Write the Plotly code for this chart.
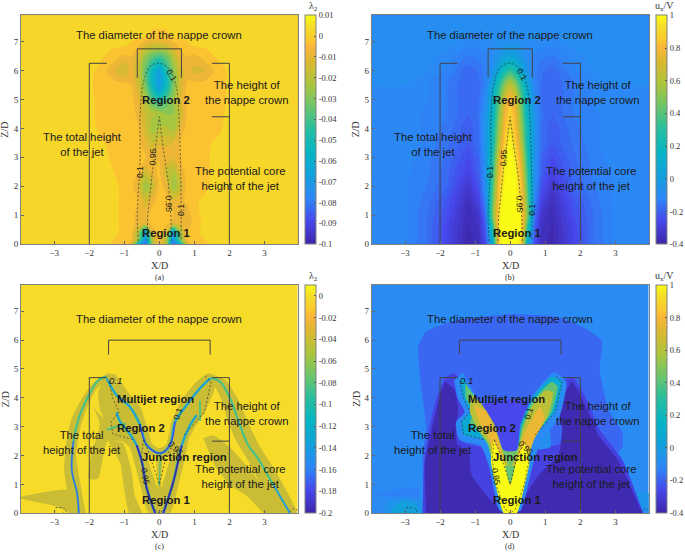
#!/usr/bin/python
import numpy as np
import plotly.graph_objects as go
import plotly.colors as pc

PARULA = [[0, "#3E26A8"], [0.1, "#4747EB"], [0.2, "#2D87F7"], [0.3, "#12A0DC"], [0.4, "#05B5C5"],
          [0.5, "#26BEA0"], [0.6, "#6CC56B"], [0.7, "#ACC53C"], [0.8, "#DDB830"], [0.86, "#FBB53A"],
          [0.89, "#FBC82D"], [0.95, "#F5DD28"], [1, "#F9FB15"]]

XTICKS = [-3, -2, -1, 0, 1, 2, 3]
YTICKS = [0, 1, 2, 3, 4, 5, 6, 7]

# panel (a): lambda2 x 1000
A_X = [-3.95, -3, -2, -1.7, -1.3, -1, -.8, -.6, -.4, -.2, 0, .2, .4, .6, .8, 1, 1.3, 1.7, 2, 3, 3.95]
A_Y = [0, .15, .4, .7, 1, 1.5, 2, 2.5, 3, 3.5, 4, 4.5, 5, 5.5, 6, 6.5, 6.9, 7.2, 7.91]
A_Z = [
    [-3, -3, -3, -3, -6, -7, -14, -60, -85, -25, -9, -25, -85, -60, -14, -7, -6, -3, -3, -3, -3],
    [-3, -3, -3, -3, -5, -7, -9, -30, -75, -25, -8, -25, -75, -35, -10, -7, -5, -3, -3, -3, -3],
    [-3, -3, -3, -3, -4, -6, -8, -26, -68, -16, -7, -16, -70, -26, -9, -6, -4, -3, -3, -3, -3],
    [-3, -3, -3, -3, -4, -6, -8, -12, -16, -8, -7, -8, -16, -14, -14, -7, -4, -3, -3, -3, -3],
    [-3, -3, -3, -3, -4, -6, -8, -12, -12, -7, -7, -7, -10, -14, -14, -6, -4, -3, -3, -3, -3],
    [-3, -3, -3, -3, -4, -6, -7, -10, -18, -12, -7, -8, -14, -12, -8, -6, -4, -3, -3, -3, -3],
    [-3, -3, -3, -3, -4, -6, -8, -15, -30, -22, -8, -12, -30, -20, -8, -6, -6, -3, -3, -3, -3],
    [-3, -3, -3, -3, -5, -6, -7, -10, -18, -12, -9, -20, -25, -14, -7, -6, -6, -3, -3, -3, -3],
    [-3, -3, -3, -3, -6, -6, -7, -8, -10, -12, -10, -12, -14, -10, -7, -6, -6, -3, -3, -3, -3],
    [-3, -3, -3, -4, -7, -6, -7, -8, -14, -20, -16, -16, -15, -9, -7, -6, -6, -4, -3, -3, -3],
    [-3, -3, -3, -6, -7, -7, -7, -9, -18, -28, -25, -24, -28, -14, -8, -7, -7, -6, -3, -3, -3],
    [-3, -3, -4, -6, -7, -7, -7, -12, -20, -24, -26, -30, -30, -20, -9, -7, -7, -6, -4, -3, -3],
    [-3, -3, -4, -6, -7, -7, -8, -14, -26, -42, -50, -42, -30, -16, -8, -7, -7, -7, -4, -3, -3],
    [-3, -3, -4, -7, -8, -8, -10, -18, -35, -55, -72, -55, -35, -18, -9, -8, -8, -7, -4, -3, -3],
    [-3, -3, -4, -6, -14, -20, -12, -20, -38, -55, -68, -50, -32, -17, -12, -17, -15, -7, -4, -3, -3],
    [-3, -3, -3, -4, -7, -11, -10, -17, -30, -38, -42, -36, -24, -12, -10, -11, -7, -4, -3, -3, -3],
    [-3, -3, -3, -3, -4, -4, -6, -9, -15, -18, -18, -16, -12, -8, -6, -4, -4, -3, -3, -3, -3],
    [-3, -3, -3, -3, -3, -3, -3, -3, -4, -6, -6, -6, -4, -3, -3, -3, -3, -3, -3, -3, -3],
    [-3, -3, -3, -3, -3, -3, -3, -3, -3, -3, -3, -3, -3, -3, -3, -3, -3, -3, -3, -3, -3],
]

# panel (b): ux/V
B_X = [-3.95, -3, -2.4, -1.8, -1.2, -.9, -.7, -.5, -.3, -.15, 0, .15, .3, .5, .7, .9, 1.2, 1.8, 2.4, 3, 3.95]
B_Y = [0, .5, 1, 1.5, 2, 2.5, 3, 3.5, 4, 4.5, 5, 5.5, 6, 6.5, 7, 7.91]
B_Z = [
    [-.1, -.12, -.17, -.27, -.39, -.36, -.25, .08, .9, 1, 1, 1, .9, .08, -.25, -.36, -.39, -.27, -.17, -.12, -.1],
    [-.1, -.12, -.17, -.27, -.38, -.35, -.22, .25, .97, 1, 1, 1, .97, .25, -.22, -.35, -.38, -.27, -.17, -.12, -.1],
    [-.1, -.12, -.17, -.25, -.37, -.33, -.17, .45, .95, 1, 1, 1, .95, .45, -.17, -.33, -.37, -.25, -.17, -.12, -.1],
    [-.1, -.12, -.16, -.23, -.35, -.28, -.12, .4, .9, 1, 1, 1, .9, .4, -.12, -.28, -.35, -.23, -.16, -.12, -.1],
    [-.1, -.12, -.15, -.2, -.32, -.24, -.09, .35, .85, .98, 1, .98, .85, .35, -.09, -.24, -.32, -.2, -.15, -.12, -.1],
    [-.1, -.12, -.14, -.19, -.28, -.21, -.07, .3, .78, .96, 1, .96, .78, .3, -.07, -.21, -.28, -.19, -.14, -.12, -.1],
    [-.1, -.11, -.14, -.18, -.25, -.2, -.07, .25, .72, .92, .99, .92, .72, .25, -.07, -.2, -.25, -.18, -.14, -.11, -.1],
    [-.1, -.11, -.13, -.17, -.22, -.18, -.05, .2, .62, .86, .96, .86, .62, .2, -.05, -.18, -.22, -.17, -.13, -.11, -.1],
    [-.1, -.11, -.13, -.16, -.22, -.18, -.05, .18, .55, .8, .9, .8, .55, .18, -.05, -.18, -.22, -.16, -.13, -.11, -.1],
    [-.1, -.11, -.13, -.15, -.2, -.17, -.06, .13, .5, .75, .87, .75, .5, .13, -.06, -.17, -.2, -.15, -.13, -.11, -.1],
    [-.1, -.1, -.12, -.15, -.2, -.18, -.1, .1, .42, .68, .8, .68, .42, .1, -.1, -.18, -.2, -.15, -.12, -.1, -.1],
    [-.1, -.1, -.12, -.15, -.2, -.18, -.13, .05, .3, .5, .62, .5, .3, .05, -.13, -.18, -.2, -.15, -.12, -.1, -.1],
    [-.09, -.09, -.1, -.13, -.19, -.17, -.14, -.06, .1, .22, .3, .22, .1, -.06, -.14, -.17, -.19, -.13, -.1, -.09, -.09],
    [-.09, -.09, -.09, -.11, -.15, -.14, -.13, -.1, -.04, 0, .02, 0, -.04, -.1, -.13, -.14, -.15, -.11, -.09, -.09, -.09],
    [-.08, -.08, -.08, -.09, -.11, -.11, -.1, -.1, -.09, -.08, -.08, -.08, -.09, -.1, -.1, -.11, -.11, -.09, -.08, -.08, -.08],
    [-.08, -.08, -.08, -.08, -.08, -.08, -.08, -.08, -.08, -.08, -.08, -.08, -.08, -.08, -.08, -.08, -.08, -.08, -.08, -.08, -.08],
]

# isolines of the upper panels, (x, z)
UPPER_01 = [(-.6, .1), (-.63, 1.06), (-.55, 2.9), (-.55, 4.4), (-.46, 5.56), (-.27, 6.14), (0, 6.25), (.26, 6.08),
            (.47, 5.5), (.56, 4.4), (.62, 1.5), (.62, .1)]
UPPER_095 = [(-.35, .1), (-.33, 1), (-.2, 2.5), (-.1, 3.4), (0, 4.4), (.1, 3.4), (.25, 2.2), (.33, 1), (.35, .1)]

# panel (c): filled regions (x, z, lambda2)
C_BG = -0.002
C_OLIVE = -0.04
C_ARCH_L = [(-2.6, 0), (-2.62, .7), (-2.72, 1.5), (-2.65, 2.5), (-2.5, 3.3), (-2.2, 4), (-1.9, 4.5), (-1.6, 4.75), (-1.4, 4.82),
            (-1.5, 4.6), (-1.8, 4.3), (-2.05, 3.7), (-2.25, 3), (-2.38, 2), (-2.25, 1), (-2.15, .3), (-2.1, 0)]
C_ARCH_R = [(1.4, 4.85), (1.9, 4.6), (2.25, 3.95), (2.55, 3.1), (2.85, 2.35), (3.3, 1.5), (3.92, 0), (3.5, 0), (2.9, 1),
            (2.55, 1.8), (2.2, 2.5), (1.95, 3.2), (1.75, 4), (1.55, 4.5)]
C_CENTRE = [(-1.5, 4.85), (-1.25, 4.8), (-.9, 4.2), (-.55, 3.7), (-.35, 3), (-.2, 2.4), (0, 2.25), (.2, 2.4), (.35, 3.2),
            (.65, 3.95), (1.05, 4.55), (1.4, 4.85), (1.65, 4.7), (1.55, 4.2), (1.3, 3.5), (1.05, 3.05), (.85, 2.6), (.75, 2),
            (.55, 1), (.3, 0), (-.3, 0), (-.55, 1), (-.7, 1.7), (-.85, 2.3), (-1.05, 2.5), (-1.5, 2.5), (-1.7, 2.9), (-1.6, 3.3),
            (-1.7, 3.6), (-1.75, 4.2)]
C_HOLE_L = [(-.38, 2.05), (-.05, .9), (-.1, 2.0)]
C_HOLE_R = [(.34, 2.05), (.05, .9), (.1, 2.0)]
C_STREAK_L = [(-1.45, 2.5), (-1.05, 2.45), (-.8, 1.5), (-.7, .6), (-.5, 0), (-.85, 0), (-1, .8), (-1.1, 1.7)]
C_STREAK_R = [(1.25, 2.6), (1.55, 2.7), (2, 2.3), (2.6, 1.5), (3.1, .7), (3.55, 0), (3, 0), (2.5, .6), (2, 1), (1.6, 1.6)]
C_WEDGE = [(-3.95, .58), (-2.55, .8), (-2.5, .05), (-3, .25), (-3.95, .5)]
C_STREAK_M = [(-1.9, 3.7), (-1.7, 3.1), (-1.95, 2), (-2.02, 1.2), (-1.75, 1.2), (-1.6, 2), (-1.4, 3)]
C_RIDGE_L = [(-2.3, 0), (-2.35, .7), (-2.5, 1.5), (-2.45, 2.5), (-2.3, 3.3), (-2.05, 4), (-1.75, 4.6), (-1.5, 4.75)]
C_RIDGE_R = [(1.45, 4.69), (1.73, 4.56), (2.02, 3.98), (2.3, 3.06), (2.54, 2.36), (2.78, 1.96), (3.26, .98), (3.73, 0)]
C_RIDGE_IN = [(-1.5, 4.67), (-1.22, 4.09), (-.84, 3.69), (-.55, 3.06), (-.36, 2.36), (.02, 2.08), (.3, 2.36), (.45, 3.17),
              (.78, 3.75), (1.16, 4.33), (1.45, 4.67)]
C_LEG_L = [(-.12, 0), (-.36, .87), (-.5, 1.79), (-.65, 2.36), (-.89, 2.83), (-1.12, 3.17), (-1.22, 3.5)]
C_LEG_R = [(.11, 0), (.4, 1.1), (.64, 2.36), (.88, 3.06), (1.07, 3.4)]
C_BRANCH = [(-1.5, 2.9), (-.95, 3.1)]
C_SPOT = [(1.16, 3.9), (1.16, 3.2)]
C_MID = [(0, .95), (.03, 2.05)]

# panel (d): filled regions (x, z, ux/V)
D_BG = -0.1
D_DOME = [(-2.45, 0), (-2.5, 2), (-2.4, 3), (-2.55, 4.5), (-2.62, 5.8), (-2.4, 6.3), (-1.9, 6.55), (-1.4, 6.72), (0, 6.9), (1.4, 6.8),
          (2.15, 6.4), (2.62, 5.95), (2.55, 5), (2.8, 3.6), (3.2, 2.8), (3.2, 2.3), (2.9, 1.8), (3.7, 0)]
D_MOUNT = [(-2.5, 0), (-2.45, 1.8), (-2.3, 3), (-2.1, 4), (-1.85, 4.7), (-1.6, 4.85), (-1.4, 4.6), (-1.35, 3.9), (-1.2, 3.5),
           (-1.45, 3.1), (-1.4, 2.5), (-.75, 2.3), (.75, 2.3), (1.4, 2.4), (1.55, 3.0), (1.4, 3.6), (1.55, 4.6), (1.8, 4.7), (2.2, 3.9),
           (2.55, 2.9), (3.2, 1.85), (3.8, 0)]
D_NAVY_L = [(-2.4, 0), (-2.43, 1.79), (-2.14, 3.4), (-1.86, 4.55), (-1.6, 4.3), (-1.48, 3.63), (-1.55, 3), (-1.5, 2.35),
            (-1.19, 2.13), (-1.1, 1.33), (-.52, .4), (-.14, 0)]
D_NAVY_R = [(.14, 0), (.81, 1.33), (1.38, 2), (1.48, 2.94), (1.38, 3.63), (1.76, 4.55), (2.2, 3.6), (2.52, 2.7), (3.1, 1.79), (3.76, 0)]
D_GAP = [(-.25, 2.1), (0, 2), (.25, 2.1), (.45, 3), (.75, 3.75), (0, 3.95), (-.8, 3.75), (-.5, 3)]
D_BLOB_L0 = [(-3.6, 0), (-3.5, .4), (-3, .55), (-2.55, .45), (-2.45, 0)]
D_BLOB_L = [(-3.4, 0), (-3.3, .3), (-3, .42), (-2.7, .32), (-2.55, 0)]
D_BLOB_L2 = [(-3.95, .65), (-2.6, .9), (-2.6, .55), (-3.5, .6)]
D_BLOB_R = [(3.55, .8), (3.95, .7), (3.95, 0), (3.72, .2)]
D_BLOB_IN = [(.8, 2.2), (1.15, 2.3), (1.1, 3), (.95, 2.9)]
D_V0 = [(-1.6, 4.6), (-1.5, 4), (-1.3, 3.5), (-1.55, 3.15), (-1.45, 2.55), (-.85, 2.35), (-.62, 1.7), (-.3, .1), (0, 0), (.3, .1),
        (.65, 1.7), (.85, 2.4), (1.42, 3.4), (1.6, 4.56), (1.25, 4.88), (.65, 4.1), (.35, 3.1), (.24, 2.2), (0, 2.02), (-.22, 2.2),
        (-.52, 3.1), (-1.0, 4.1), (-1.35, 4.88)]
D_V1 = [(-1.43, 4.56), (-1.33, 3.98), (-1.14, 3.52), (-1.38, 3.17), (-1.33, 2.71), (-.71, 2.54), (-.52, 1.79), (-.24, .17), (0, 0),
        (.24, .17), (.52, 1.79), (.71, 2.71), (1.29, 3.52), (1.48, 4.56), (1.19, 4.73), (.62, 3.98), (.29, 3.06), (.19, 2.13),
        (-.05, 2.08), (-.43, 2.48), (-.71, 3.29), (-1.05, 3.98), (-1.33, 4.67)]
D_V2 = [(-1.28, 4.5), (-1.27, 4), (-1.05, 3.5), (-1.15, 3.15), (-.95, 2.9), (-.65, 2.4), (-.5, 1.7), (-.2, .1), (.2, .1), (.5, 1.7),
        (.68, 2.6), (1.18, 3.5), (1.35, 4.4), (1.18, 4.55), (.62, 3.85), (.33, 3), (.2, 2.2), (0, 2.12), (-.2, 2.2), (-.48, 3.1),
        (-.95, 3.95)]
D_V3 = [(-1.1, 4.1), (-1.15, 3.5), (-.9, 2.9), (-.6, 2.4), (-.45, 1.7), (.45, 1.7), (.65, 2.5), (1.08, 3.4), (1.22, 4.2), (1, 4.25),
        (.62, 3.7), (.36, 2.9), (.22, 2.2), (0, 1.6), (-.22, 2.2), (-.46, 3.1), (-.85, 3.85)]
D_V4 = [(-1.03, 3.75), (-.9, 3.2), (-.6, 2.6), (-.45, 1.8), (-.2, .1), (.2, .1), (.45, 1.8), (.66, 2.5), (.98, 3.3), (.85, 3.7),
        (.4, 2.75), (.22, 2), (0, 1), (-.22, 2), (-.4, 2.75), (-.68, 3.55)]
D_STEM = [(-.48, 2.55), (-.55, 1.8), (-.4, .9), (-.18, 0), (.18, 0), (.4, .9), (.55, 1.8), (.42, 2.45), (.17, 1.75), (0, .95),
          (-.17, 1.75)]
D_HOLE = [(-.16, 2.12), (0, 1.6), (.16, 2.12), (0, 2.15)]

# isolines of the lower panels, (x, z)
LOWER_01 = [(-1.43, 4.56), (-1.33, 3.98), (-1.14, 3.52), (-1.38, 3.17), (-1.33, 2.75), (-.71, 2.54)]
LOWER_01B = [(.71, 2.71), (1.29, 3.52), (1.48, 4.56), (1.3, 4.75)]
LOWER_095 = [(-.45, 2.55), (-.52, 1.9), (-.38, .9), (-.15, .15), (0, 0), (.15, .15), (.38, .9), (.55, 1.9), (.42, 2.45),
             (.2, 2), (0, 1), (-.3, 2.1), (-.45, 2.55)]
LOWER_OVAL_L = [(-3, .05), (-2.95, .2), (-2.75, .2), (-2.65, .08), (-2.75, 0)]
LOWER_OVAL_R = [(3.72, .05), (3.85, .18), (3.95, .1)]

# brackets (x, z)
UP_TOTAL_L = [(-1.5, 6.25), (-2, 6.25), (-2, 0)]
UP_TOTAL_R = [(1.5, 6.25), (2, 6.25), (2, 0)]
UP_CROWN = [(1.5, 4.4), (2, 4.4)]
UP_DIAM = [(-.63, 5.75), (-.63, 6.75), (.63, 6.75), (.63, 5.75)]
LO_TOTAL_L = [(-1.5, 4.7), (-2, 4.7), (-2, 0)]
LO_TOTAL_R = [(1.5, 4.7), (2, 4.7), (2, 0)]
LO_CROWN = [(1.5, 2.5), (2, 2.5)]
LO_DIAM = [(-1.45, 5.5), (-1.45, 6), (1.45, 6), (1.45, 5.5)]

SERIF = "Liberation Serif"
SANS = "Liberation Sans"
W, H = 685, 552
DARK = "#333333"
DOTS = "2px,2px"

PANELS = {
    "a": dict(px=(21, 297.7), py=(15.3, 244), cb=305, lo=-.1, hi=.01, sub="(a)", title="λ<sub>2</sub>",
              ticks=[.01, 0, -.01, -.02, -.03, -.04, -.05, -.06, -.07, -.08, -.09, -.1]),
    "b": dict(px=(371.7, 648.7), py=(15.3, 244), cb=656, lo=-.4, hi=1, sub="(b)", title="u<sub>x</sub>/V",
              ticks=[1, .8, .6, .4, .2, 0, -.2, -.4]),
    "c": dict(px=(21, 297.7), py=(285, 513.3), cb=305, lo=-.2, hi=.01, sub="(c)", title="λ<sub>2</sub>",
              ticks=[0, -.02, -.04, -.06, -.08, -.1, -.12, -.14, -.16, -.18, -.2]),
    "d": dict(px=(371.7, 648.7), py=(285, 513.3), cb=656, lo=-.4, hi=1, sub="(d)", title="u<sub>x</sub>/V",
              ticks=[1, .8, .6, .4, .2, 0, -.2, -.4]),
}

fig = go.Figure()
layout = {}
notes = []


def colour(key, v):
    p = PANELS[key]
    return pc.sample_colorscale(PARULA, [(v - p["lo"]) / (p["hi"] - p["lo"])])[0]


def axes(key):
    n = "abcd".index(key) + 1
    return "x%d" % n, "y%d" % n


def region(key, pts, v, shape="spline"):
    xa, ya = axes(key)
    xs, ys = zip(*pts)
    fig.add_trace(go.Scatter(x=xs, y=ys, xaxis=xa, yaxis=ya, mode="lines", fill="toself", fillcolor=colour(key, v),
                             line=dict(width=0, shape=shape, smoothing=.5), hoverinfo="skip", showlegend=False))


def line(key, pts, col=DARK, width=.7, dash=None, shape="spline"):
    xa, ya = axes(key)
    xs, ys = zip(*pts)
    fig.add_trace(go.Scatter(x=xs, y=ys, xaxis=xa, yaxis=ya, mode="lines", hoverinfo="skip", showlegend=False,
                             line=dict(color=col, width=width, dash=dash, shape=shape)))


def text(key, x, y, s, size=11.3, bold=False, angle=0, italic=False):
    xa, ya = axes(key)
    if bold:
        s = "<b>%s</b>" % s
    if italic:
        s = "<i>%s</i>" % s
    notes.append(dict(x=x, y=y, xref=xa, yref=ya, text=s, showarrow=False, textangle=angle,
                      xanchor="center", yanchor="middle", font=dict(family=SANS, size=size, color="#1a1a1a")))


def paper_text(x, y, s, size, angle=0):
    notes.append(dict(x=x / W, y=1 - y / H, xref="paper", yref="paper", text=s, showarrow=False, textangle=angle,
                      xanchor="center", yanchor="middle", font=dict(family=SERIF, size=size, color="#333333")))


# fields (filled bands take the colour of their lower level, so panel a is moved a little)
fig.add_trace(go.Contour(x=A_X, y=A_Y, z=np.array(A_Z) / 1000, xaxis="x1", yaxis="y1", colorscale=PARULA, zmin=-.102, zmax=.008,
                         autocontour=False, contours=dict(start=-.1, end=.01, size=.005, coloring="fill"),
                         line=dict(width=0, smoothing=1), showscale=False, hoverinfo="skip"))
fig.add_trace(go.Contour(x=B_X, y=B_Y, z=B_Z, xaxis="x2", yaxis="y2", colorscale=PARULA, zmin=-.4, zmax=1,
                         autocontour=False, contours=dict(start=-.4, end=1, size=.025, coloring="fill"),
                         line=dict(width=0, smoothing=1), showscale=False, hoverinfo="skip"))

# panel c
FULL = [(-3.95, 0), (3.95, 0), (3.95, 7.91), (-3.95, 7.91)]
region("c", FULL, C_BG, "linear")
for pts in [C_ARCH_L, C_ARCH_R, C_CENTRE, C_STREAK_L, C_STREAK_R, C_WEDGE, C_STREAK_M]:
    region("c", pts, C_OLIVE)
region("c", C_HOLE_L, C_BG)
region("c", C_HOLE_R, C_BG)
for pts in [C_RIDGE_L, C_RIDGE_R]:
    line("c", pts, colour("c", -.085), 2.2)
line("c", C_RIDGE_L[:4], colour("c", -.17), 1.3)
line("c", C_RIDGE_R[-2:], colour("c", -.15), 1.3)
for pts in [C_RIDGE_IN, C_LEG_L, C_LEG_R]:
    line("c", pts, colour("c", -.09), 2.8)
    line("c", pts, colour("c", -.15), 1.2)
line("c", C_LEG_L[:4], colour("c", -.195), 1.9)
line("c", C_LEG_R[:3], colour("c", -.195), 1.9)
line("c", C_RIDGE_IN[3:8], colour("c", -.18), 1.3)
line("c", C_BRANCH, colour("c", -.08), 2.2)
line("c", C_SPOT, colour("c", -.08), 2)
line("c", C_MID, colour("c", -.09), 1)

# panel d
region("d", FULL, D_BG, "linear")
region("d", D_DOME, -.19)
region("d", D_BLOB_L2, -.13)
region("d", D_BLOB_L0, -.06)
region("d", D_BLOB_L, .02)
region("d", D_BLOB_R, -.05)
region("d", D_MOUNT, -.28)
region("d", D_GAP, -.26)
region("d", D_BLOB_IN, -.08)
region("d", D_NAVY_L, -.38)
region("d", D_NAVY_R, -.38)
region("d", D_V0, -.1)
region("d", D_V1, .08)
region("d", D_V2, .42)
region("d", D_V3, .62)
region("d", D_V4, .76)
region("d", D_HOLE, .45)
region("d", D_STEM, 1)

# isolines, brackets, labels
for key in "ab":
    line(key, UPPER_01, dash=DOTS)
    line(key, UPPER_095, dash=DOTS, shape="linear")
    for pts in [UP_TOTAL_L, UP_TOTAL_R, UP_CROWN, UP_DIAM]:
        line(key, pts, col="#444444", width=1, shape="linear")
    text(key, 0, 7.22, "The diameter of the nappe crown")
    text(key, -2.2, 3.45, "The total height<br>of the jet")
    text(key, 2.5, 5.24, "The height of<br>the nappe crown")
    text(key, 2.3, 2.25, "The potential core<br>height of the jet")
    text(key, .18, 4.97, "Region 2", bold=True)
    text(key, .18, .37, "Region 1", bold=True)
    text(key, .35, 5.85, "0.1", size=8.5, angle=60)
    text(key, -.57, 2.5, "0.1", size=8.5, angle=-90)
    text(key, -.18, 3, "0.95", size=8.5, angle=-88)
    text(key, .28, 1.4, "0.95", size=8.5, angle=88)
    text(key, .62, 1.18, "0.1", size=8.5, angle=-90)

for key in "cd":
    for pts in [LOWER_01, LOWER_01B, LOWER_095, LOWER_OVAL_L, LOWER_OVAL_R]:
        line(key, pts, dash=DOTS, shape="linear")
    for pts in [LO_TOTAL_L, LO_TOTAL_R, LO_CROWN, LO_DIAM]:
        line(key, pts, col="#444444", width=1, shape="linear")
    text(key, 0, 6.72, "The diameter of the nappe crown")
    text(key, -2.2, 2.46, "The total<br>height of the jet")
    text(key, 2.5, 3.45, "The height of<br>the nappe crown")
    text(key, 2.3, 1.26, "The potential core<br>height of the jet")
    text(key, -.1, 3.96, "Multijet region", bold=True)
    text(key, -.51, 2.96, "Region 2", bold=True)
    text(key, .72, 1.96, "Junction region", bold=True)
    text(key, .18, .46, "Region 1", bold=True)
    text(key, -1.24, 4.6, "0.1", size=9.5, italic=True)
    text(key, .54, 3.46, "0.1", size=8.5, angle=-72)
    text(key, .45, 2.25, "0.95", size=8.5, angle=45)
    text(key, -.39, 1.27, "0.95", size=8.5, angle=80)

# axes and colour bars
for i, key in enumerate("abcd"):
    p = PANELS[key]
    n = i + 1
    xa = "xaxis" if n == 1 else "xaxis%d" % n
    ya = "yaxis" if n == 1 else "yaxis%d" % n
    style = dict(showgrid=False, zeroline=False, showline=True, mirror=True, linecolor="#808080", linewidth=1,
                 ticks="inside", ticklen=3, tickcolor="#666666", tickfont=dict(family=SERIF, size=9, color="#333333"))
    layout[xa] = dict(domain=[p["px"][0] / W, p["px"][1] / W], range=[-3.95, 3.95], tickvals=XTICKS, anchor="y%d" % n, **style)
    layout[ya] = dict(domain=[1 - p["py"][1] / H, 1 - p["py"][0] / H], range=[0, 7.91], tickvals=YTICKS, anchor="x%d" % n, **style)
    mid = (p["px"][0] + p["px"][1]) / 2
    paper_text(mid, p["py"][1] + 21, "X/D", 10)
    paper_text(p["px"][0] - 16, (p["py"][0] + p["py"][1]) / 2, "Z/D", 10, angle=-90)
    paper_text(mid, p["py"][1] + 33, p["sub"], 8)
    paper_text(p["cb"] + 8, p["py"][0] - 9, p["title"], 10)
    fig.add_trace(go.Scatter(x=[0], y=[-5], xaxis="x%d" % n, yaxis="y%d" % n, mode="markers", hoverinfo="skip", showlegend=False,
                             marker=dict(color=[p["lo"]], cmin=p["lo"], cmax=p["hi"], colorscale=PARULA, showscale=True, colorbar=dict(
                                 x=p["cb"] / W, xanchor="left", xpad=0, y=1 - p["py"][0] / H, yanchor="top", ypad=0,
                                 lenmode="pixels", len=p["py"][1] - p["py"][0], thicknessmode="pixels", thickness=11,
                                 tickvals=p["ticks"], ticktext=[("%g" % t) for t in p["ticks"]], ticks="inside", ticklen=2,
                                 tickcolor="#555555", outlinecolor="#808080", outlinewidth=1,
                                 tickfont=dict(family=SERIF, size=8.5, color="#333333")))))

fig.update_layout(width=W, height=H, margin=dict(l=0, r=0, t=0, b=0, autoexpand=False), paper_bgcolor="white", plot_bgcolor="white",
                  showlegend=False, annotations=notes, **layout)
fig.write_html("out.html", config=dict(displayModeBar=False), post_script="document.body.style.margin='0';")
